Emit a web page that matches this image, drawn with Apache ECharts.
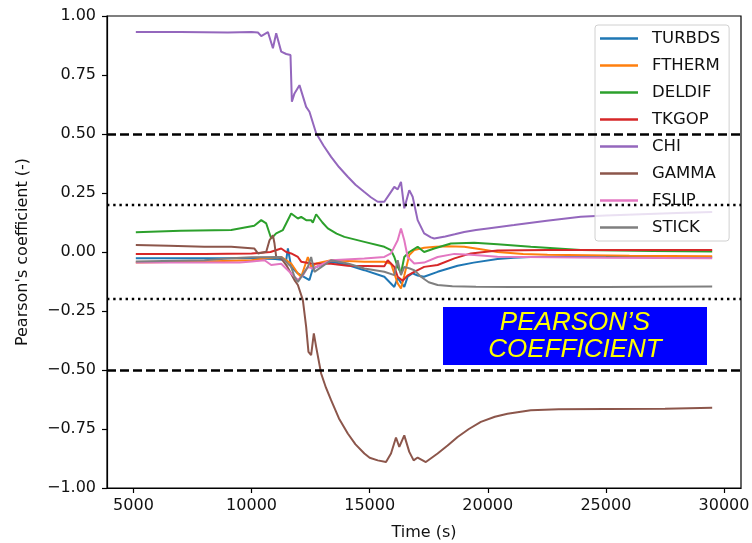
<!DOCTYPE html>
<html>
<head>
<meta charset="utf-8">
<script src="https://cdn.jsdelivr.net/npm/echarts@6/dist/echarts.min.js"></script>
<style>html,body{margin:0;padding:0;background:#fff}#c{width:752px;height:543px}</style>
</head>
<body>
<div id="c"></div>
<script>
const seriesNames = ['TURBDS','FTHERM','DELDIF','TKGOP','CHI','GAMMA','FSLIP','STICK'];
const colors = ['#1f77b4','#ff7f0e','#2ca02c','#d62728','#9467bd','#8c564b','#e377c2','#7f7f7f'];
const xTicks = [5000,10000,15000,20000,25000,30000];
const refDashed = [0.5,-0.5];
const refDotted = [0.2,-0.2];

const TURBDS = [[5100,-0.027],[8000,-0.027],[10000,-0.027],[11000,-0.03],[11466,-0.035],[11538,0.015],[11677,-0.063],[11961,-0.091],[12451,-0.119],[12594,-0.07],[13084,-0.049],[13367,-0.041],[14073,-0.055],[14775,-0.077],[15620,-0.105],[16043,-0.148],[16186,-0.11],[16326,-0.13],[16465,-0.148],[16609,-0.105],[16820,-0.09],[17031,-0.1],[17300,-0.105],[17877,-0.084],[18722,-0.058],[19400,-0.045],[20412,-0.03],[21100,-0.024],[21820,-0.021],[25000,-0.02],[29500,-0.022]];
const FTHERM = [[5100,-0.045],[8000,-0.04],[10000,-0.035],[10549,-0.027],[11255,-0.021],[11677,-0.049],[11961,-0.091],[12100,-0.105],[12383,-0.021],[12522,-0.063],[12734,-0.049],[13367,-0.035],[14775,-0.041],[15620,-0.041],[15903,-0.05],[16186,-0.133],[16326,-0.155],[16465,-0.1],[16677,-0.013],[16887,0.008],[17306,0.018],[17800,0.022],[18299,0.024],[19001,0.022],[19707,0.012],[20412,0.0],[21500,-0.008],[22525,-0.012],[26000,-0.016],[29500,-0.018]];
const DELDIF = [[5100,0.084],[7000,0.09],[9141,0.093],[10113,0.111],[10409,0.135],[10621,0.121],[10832,0.057],[11043,0.079],[11326,0.093],[11677,0.163],[11961,0.142],[12100,0.149],[12311,0.135],[12522,0.135],[12594,0.124],[12734,0.16],[13000,0.125],[13228,0.1],[13600,0.078],[13930,0.064],[14775,0.043],[15620,0.022],[15903,0.008],[16043,-0.021],[16186,-0.063],[16326,-0.09],[16465,-0.021],[16677,0.0],[17031,0.022],[17306,0.0],[17733,0.015],[18440,0.036],[19424,0.039],[20412,0.033],[21820,0.022],[23932,0.008],[27000,0.004],[29500,0.002]];
const TKGOP = [[5100,-0.009],[8000,-0.008],[10000,-0.006],[10800,0.0],[11255,0.015],[11466,0.0],[11677,-0.006],[11961,-0.021],[12100,-0.041],[12522,-0.049],[13367,-0.05],[14073,-0.058],[15620,-0.06],[15764,-0.035],[16043,-0.063],[16186,-0.105],[16397,-0.122],[16600,-0.1],[16887,-0.084],[17306,-0.063],[17877,-0.055],[18587,-0.027],[19283,-0.006],[20412,0.006],[22525,0.008],[26000,0.008],[29500,0.008]];
const CHI = [[5100,0.932],[7000,0.932],[9000,0.93],[10000,0.932],[10270,0.93],[10409,0.915],[10693,0.932],[10904,0.863],[11043,0.927],[11255,0.849],[11466,0.839],[11648,0.835],[11707,0.637],[11817,0.672],[12028,0.707],[12311,0.615],[12451,0.594],[12734,0.503],[13050,0.45],[13368,0.403],[13700,0.36],[14073,0.319],[14400,0.285],[14762,0.255],[15050,0.232],[15341,0.213],[15620,0.213],[15903,0.255],[16043,0.276],[16186,0.265],[16326,0.297],[16465,0.185],[16677,0.262],[16820,0.234],[17031,0.135],[17306,0.079],[17593,0.062],[17733,0.057],[18200,0.066],[18600,0.075],[19000,0.085],[19500,0.093],[20000,0.1],[21110,0.114],[22500,0.132],[23932,0.149],[25000,0.155],[26500,0.16],[28000,0.165],[29500,0.169]];
const GAMMA = [[5100,0.03],[6500,0.026],[8000,0.022],[9141,0.022],[10113,0.015],[10270,-0.006],[10621,0.001],[10760,0.05],[10904,0.071],[10971,0.036],[11043,-0.021],[11255,-0.027],[11500,-0.06],[11817,-0.119],[11961,-0.14],[12172,-0.204],[12311,-0.317],[12409,-0.423],[12522,-0.437],[12636,-0.345],[12734,-0.402],[12945,-0.515],[13150,-0.575],[13367,-0.628],[13700,-0.705],[14073,-0.769],[14400,-0.815],[14775,-0.854],[15000,-0.872],[15341,-0.883],[15692,-0.89],[15903,-0.854],[16114,-0.786],[16254,-0.826],[16465,-0.777],[16677,-0.847],[16862,-0.883],[17031,-0.871],[17378,-0.89],[17877,-0.854],[18300,-0.82],[18722,-0.784],[19200,-0.75],[19707,-0.72],[20300,-0.698],[20835,-0.685],[21820,-0.671],[23000,-0.666],[25000,-0.665],[27500,-0.664],[29500,-0.66]];
const FSLIP = [[5100,-0.045],[8000,-0.045],[9500,-0.045],[10000,-0.04],[10549,-0.035],[10832,-0.055],[11255,-0.05],[11677,-0.091],[11961,-0.119],[12028,-0.127],[12172,-0.1],[12383,-0.063],[12600,-0.07],[13367,-0.035],[14775,-0.028],[15620,-0.021],[15903,-0.006],[16186,0.05],[16326,0.1],[16465,0.05],[16609,-0.021],[16887,-0.049],[17306,-0.045],[17877,-0.021],[18587,-0.008],[19283,-0.012],[20412,-0.02],[25000,-0.024],[29500,-0.026]];
const STICK = [[5100,-0.04],[8000,-0.035],[9141,-0.027],[10000,-0.022],[11255,-0.021],[11677,-0.063],[11817,-0.105],[11961,-0.127],[12383,-0.063],[12522,-0.021],[12661,-0.084],[13367,-0.035],[14073,-0.049],[14775,-0.07],[15620,-0.084],[16043,-0.098],[16186,-0.035],[16326,-0.098],[16465,-0.063],[16700,-0.07],[16900,-0.078],[17170,-0.105],[17500,-0.128],[17877,-0.14],[18500,-0.145],[19500,-0.147],[21000,-0.148],[25000,-0.148],[29500,-0.146]];

const seriesData = [TURBDS,FTHERM,DELDIF,TKGOP,CHI,GAMMA,FSLIP,STICK];

const chart = echarts.init(document.getElementById('c'));
const FONT = 'DejaVu Sans';

const lineSeries = seriesNames.map((n,i)=>({
  name:n, type:'line', data:seriesData[i], showSymbol:false, symbol:'none',
  lineStyle:{width:2,color:colors[i]}, itemStyle:{color:colors[i]}, z:3, silent:true, animation:false
}));

const refSeries = {
  type:'line', data:[], silent:true, animation:false, z:4,
  markLine:{
    symbol:'none', silent:true, animation:false, label:{show:false},
    data: refDashed.map(v=>({yAxis:v, lineStyle:{color:'#000',width:2.6,type:[9,4]}}))
      .concat(refDotted.map(v=>({yAxis:v, lineStyle:{color:'#000',width:2.4,type:[2.4,3.8]}})))
  }
};

chart.setOption({
  animation:false,
  color:colors,
  grid:{left:107,right:11,top:16,bottom:55,show:true,borderColor:'#000',borderWidth:1.2,backgroundColor:'transparent',
    containLabel:false, outerBoundsMode:'none'},
  xAxis:{
    type:'value', min:3880, max:30720,
    name:'Time (s)', nameLocation:'middle', nameGap:37,
    nameTextStyle:{fontFamily:FONT,fontSize:16,color:'#111'},
    axisLine:{show:true,onZero:false,lineStyle:{color:'#000',width:1.2}},
    axisTick:{show:true,length:5,lineStyle:{color:'#000',width:1.2},customValues:xTicks},
    axisLabel:{fontFamily:FONT,fontSize:16,color:'#111',margin:10,customValues:xTicks,formatter:v=>String(v)},
    splitLine:{show:false}
  },
  yAxis:{
    type:'value', min:-1, max:1, interval:0.25,
    name:"Pearson's coefficient (-)", nameLocation:'middle', nameGap:76,
    nameTextStyle:{fontFamily:FONT,fontSize:16,color:'#111'},
    axisLine:{show:true,onZero:false,lineStyle:{color:'#000',width:1.2}},
    axisTick:{show:true,length:5,lineStyle:{color:'#000',width:1.2}},
    axisLabel:{fontFamily:FONT,fontSize:16,color:'#111',margin:11,
      formatter:v=>(v<0?'\u2212':'')+Math.abs(v).toFixed(2)},
    splitLine:{show:false}
  },
  legend:{
    data:seriesNames, orient:'vertical', left:595, top:25,
    icon:'rect', itemWidth:38, itemHeight:2.5, itemGap:10,
    padding:[5,9,5,5],
    backgroundColor:'rgba(255,255,255,0.8)', borderColor:'#d0d0d0', borderWidth:1, borderRadius:3,
    textStyle:{fontFamily:FONT,fontSize:16.5,color:'#111',lineHeight:17,padding:[0,0,0,9]},
    selectedMode:false
  },
  graphic:[{
    type:'group', left:443, top:307, z:10,
    children:[
      {type:'rect', shape:{x:0,y:0,width:264,height:58}, style:{fill:'#0000ff'}},
      {type:'text', x:132, y:29, style:{text:'PEARSON\u2019S\nCOEFFICIENT', fill:'#ffff00',
        font:'italic 26px "Liberation Sans", Arial, sans-serif', align:'center', verticalAlign:'middle', lineHeight:27}}
    ]
  }],
  series: lineSeries.concat([refSeries])
});
</script>
</body>
</html>
